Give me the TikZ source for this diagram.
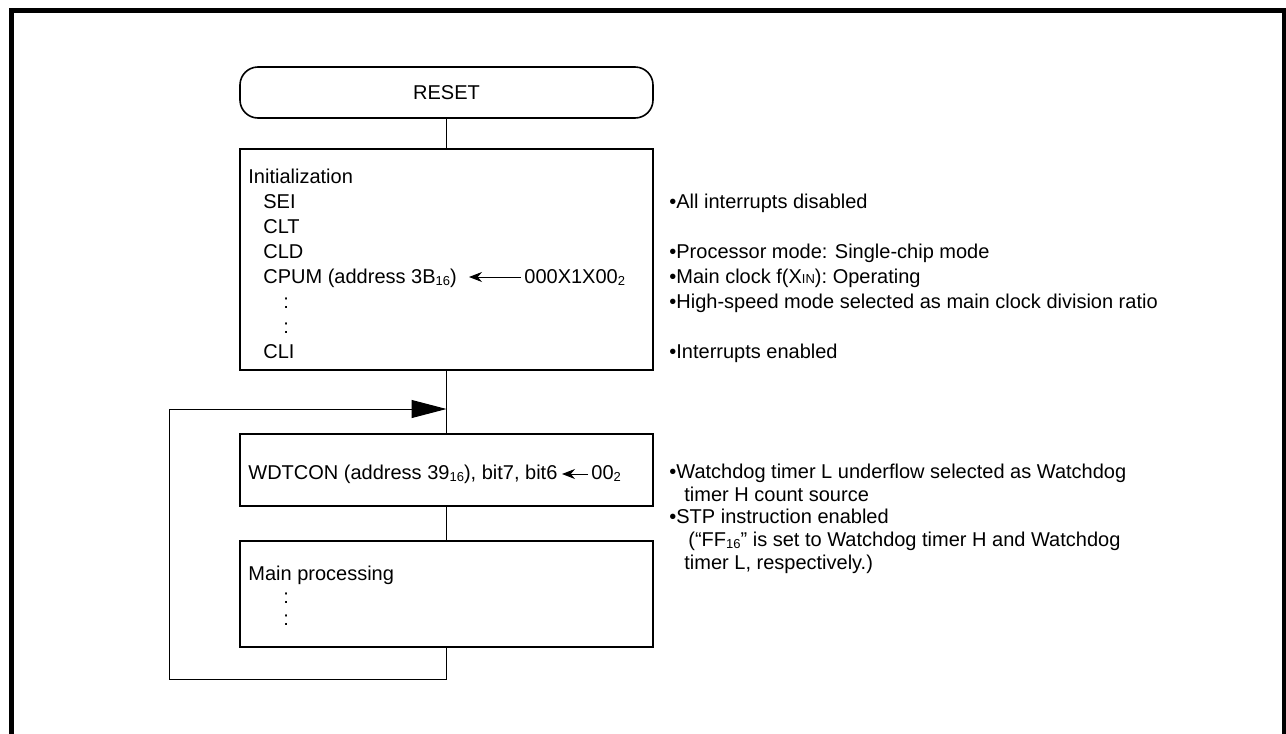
\documentclass[tikz,border=0pt]{standalone}
\usepackage{fontspec}
\setmainfont{Liberation Sans}
\usetikzlibrary{positioning, arrows.meta}
\newcommand{\lowsub}[1]{\raisebox{-0.25ex}{\fontsize{6.5}{7}\selectfont #1}}

\tikzset{
  flowbox/.style={draw, line width=0.8pt, minimum width=206.5pt, inner sep=0pt},
  termbox/.style={flowbox, rounded corners=9pt},
  txt/.style={inner sep=0pt, anchor=base west, font=\fontsize{10}{12}\selectfont},
  flowline/.style={line width=0.5pt},
  setarrow/.style={line width=0.5pt, shorten <=1.5pt, -{Stealth[length=6.5pt, width=5pt]}},
}

\begin{document}
\begin{tikzpicture}[x=0.5pt, y=-0.5pt]
  \useasboundingbox (0,0) rectangle (1286,734);
  % outer frame, open at the bottom
  \draw[line width=2.5pt] (11.5,734) -- (11.5,10) -- (1284.5,10) -- (1284.5,734);

  % flow boxes
  \node[termbox, minimum height=25.5pt, font=\fontsize{10}{12}\selectfont] (reset) at (446.5,92.5) {RESET};
  \node[flowbox, minimum height=110.5pt] (init) at (446.5,259.5) {};
  \node[flowbox, minimum height=36pt] (wdt) at (446.5,470) {};
  \node[flowbox, minimum height=53pt] (mainproc) at (446.5,594) {};

  \draw[flowline] (reset) -- (init);
  \draw[flowline] (init) -- (wdt);
  \draw[flowline] (wdt) -- (mainproc);

  % loop back
  \coordinate (loopcorner) at (169,679);
  \coordinate (merge) at (446.5,409);
  \draw[flowline, -{Triangle[length=17.5pt, width=9pt]}] (mainproc) |- (loopcorner) |- (merge);

  % initialization
  \node[txt] (inittitle) at (248,183) {Initialization};
  \foreach \txt [count=\i] in {SEI, CLT, CLD, {CPUM (address 3B\lowsub{16})},
      {\hspace{10pt}:}, {\hspace{10pt}:}, CLI}
    \node[txt] (ins\i) at (263,183+25*\i) {\txt};
  \node[txt] (cpumval) at (524,283) {000X1X00\lowsub{2}};
  \coordinate (cpumtip) at (469,277);
  \draw[setarrow] (cpumval.west |- cpumtip) -- (cpumtip);

  \foreach \y/\txt [count=\i] in {208/{•All interrupts disabled},
      258/{•Processor mode: Single-chip mode},
      283/{•Main clock f(X{\fontsize{6.5}{7}\selectfont IN}): Operating},
      308/{•High-speed mode selected as main clock division ratio},
      358/{•Interrupts enabled}}
    \node[txt] (initnote\i) at (669,\y) {\txt};

  % watchdog
  \node[txt] (wdttext) at (248,479) {WDTCON (address 39\lowsub{16}), bit7, bit6};
  \node[txt] (wdtval) at (591,479) {00\lowsub{2}};
  \coordinate (wdttip) at (562,474);
  \draw[setarrow] (wdtval.west |- wdttip) -- (wdttip);

  \foreach \y/\txt [count=\i] in {478/{•Watchdog timer L underflow selected as Watchdog},
      501/{\hspace{7.5pt}timer H count source},
      523/{•STP instruction enabled},
      546/{\hspace{9.5pt}(“FF\lowsub{16}” is set to Watchdog timer H and Watchdog},
      569/{\hspace{7.5pt}timer L, respectively.)}}
    \node[txt] (wdtnote\i) at (669,\y) {\txt};

  % main processing
  \node[txt] (maintitle) at (248,580) {Main processing};
  \node[txt] (maindots1) at (283,603) {:};
  \node[txt] (maindots2) at (283,625) {:};
\end{tikzpicture}
\end{document}
